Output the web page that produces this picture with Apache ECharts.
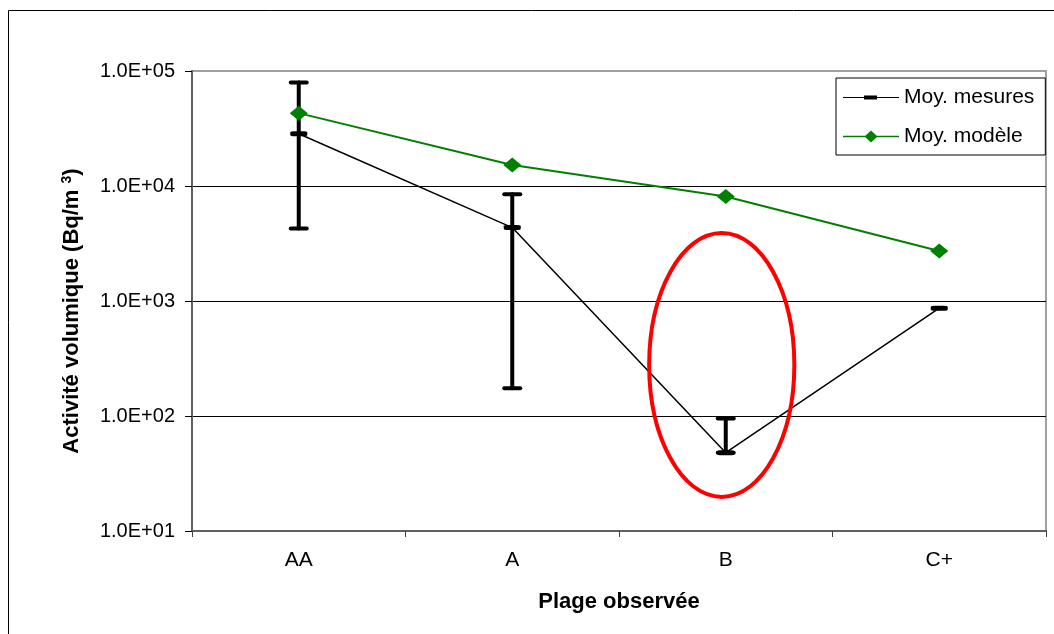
<!DOCTYPE html>
<html>
<head>
<meta charset="utf-8">
<title>Activité volumique par plage observée</title>
<script src="https://cdn.jsdelivr.net/npm/echarts@6/dist/echarts.min.js"></script>
<style>
  html, body { margin: 0; padding: 0; background: #fff; }
  #chart { width: 1054px; height: 634px; }
</style>
</head>
<body>
<div id="chart"></div>
<script>
// Observed ranges (x categories)
const categories = ['AA', 'A', 'B', 'C+'];

// Mean of measurements, with min / max of the measured spread
const mesures    = [28500, 4350, 48, 865];
const mesuresMin = [4270, 174, 48, null];
const mesuresMax = [79500, 8470, 95, null];

// Mean of the model
const modele = [43000, 15200, 8100, 2720];

// Log axis bounds
const yMin = 10;
const yMax = 100000;

// Highlighted zone around range B (value span of the circled area)
const zoneCategory = 'B';
const zoneTop = 3900;
const zoneBottom = 19.8;

const FONT = "'Liberation Sans', Arial, sans-serif";

function sciLabel(v) {
  const e = Math.round(Math.log10(v));
  return '1.0E+' + (e < 10 ? '0' : '') + e;
}

const errData = [];
categories.forEach(function (c, i) {
  if (mesuresMin[i] != null && mesuresMax[i] != null) {
    errData.push([i, mesuresMin[i], mesuresMax[i]]);
  }
});

const chart = echarts.init(document.getElementById('chart'), null, { renderer: 'canvas' });

const option = {
  backgroundColor: '#fff',
  animation: false,
  textStyle: { fontFamily: FONT, color: '#000' },
  grid: {
    left: 192, top: 71, width: 854, height: 460,
    show: true, borderColor: '#a0a0a0', borderWidth: 2,
    backgroundColor: 'transparent',
    outerBoundsMode: 'none', containLabel: false
  },
  legend: {
    orient: 'vertical',
    left: 836, top: 78,
    padding: [9, 11, 8, 7],
    itemGap: 18,
    itemWidth: 56, itemHeight: 14,
    borderColor: '#000', borderWidth: 1,
    backgroundColor: '#fff',
    itemStyle: { borderWidth: 0 },
    textStyle: { fontFamily: FONT, fontSize: 21, color: '#000' },
    data: [
      { name: 'Moy. mesures', icon: 'path://M0,0 M56,14 M0,6.5 H56 V7.5 H0 Z M21,5 H34 V9 H21 Z' },
      { name: 'Moy. modèle', icon: 'path://M0,0 M56,14 M0,6.2 H56 V7.8 H0 Z M28,1 L34.5,7 L28,13 L21.5,7 Z' }
    ]
  },
  xAxis: {
    type: 'category',
    data: categories,
    boundaryGap: true,
    name: 'Plage observée',
    nameLocation: 'middle',
    nameGap: 60,
    nameTextStyle: { fontFamily: FONT, fontSize: 22, fontWeight: 'bold', color: '#000' },
    axisLine: { show: true, lineStyle: { color: '#606060', width: 2 } },
    axisTick: { show: true, interval: 0, length: 6, lineStyle: { color: '#404040', width: 1 } },
    axisLabel: { fontFamily: FONT, fontSize: 21, color: '#000', margin: 19, interval: 0 },
    splitLine: { show: false }
  },
  yAxis: {
    type: 'log',
    logBase: 10,
    min: yMin,
    max: yMax,
    name: 'Activité volumique (Bq/m {sup|3})',
    nameLocation: 'middle',
    nameRotate: 90,
    nameGap: 108,
    nameTextStyle: {
      fontFamily: FONT, fontSize: 22, fontWeight: 'bold', color: '#000',
      padding: [0, 20, 0, 0],
      rich: {
        sup: { fontFamily: FONT, fontSize: 14, fontWeight: 'bold', color: '#000', verticalAlign: 'top', lineHeight: 24 }
      }
    },
    axisLine: { show: true, lineStyle: { color: '#606060', width: 2 } },
    axisTick: { show: true, length: 7, lineStyle: { color: '#000', width: 1 } },
    minorTick: { show: false },
    axisLabel: { fontFamily: FONT, fontSize: 20, color: '#000', margin: 17, formatter: sciLabel },
    splitLine: { show: true, showMinLine: false, showMaxLine: false, lineStyle: { color: '#000', width: 1 } }
  },
  series: [
    {
      name: 'errors',
      type: 'custom',
      z: 2,
      data: errData,
      encode: { x: 0, y: [1, 2] },
      renderItem: function (params, api) {
        const lo = api.coord([api.value(0), api.value(1)]);
        const hi = api.coord([api.value(0), api.value(2)]);
        const half = 8;
        const style = { stroke: '#000', lineWidth: 4, lineCap: 'round' };
        return {
          type: 'group',
          children: [
            { type: 'line', shape: { x1: lo[0], y1: lo[1], x2: hi[0], y2: hi[1] }, style: style },
            { type: 'line', shape: { x1: hi[0] - half, y1: hi[1], x2: hi[0] + half, y2: hi[1] }, style: style },
            { type: 'line', shape: { x1: lo[0] - half, y1: lo[1], x2: lo[0] + half, y2: lo[1] }, style: style }
          ]
        };
      }
    },
    {
      name: 'Moy. mesures',
      type: 'line',
      z: 3,
      data: mesures,
      color: '#000',
      lineStyle: { color: '#000', width: 1.5 },
      itemStyle: { color: '#000', borderWidth: 0 },
      symbol: 'roundRect',
      symbolSize: [17, 5],
      showAllSymbol: true
    },
    {
      name: 'Moy. modèle',
      type: 'line',
      z: 4,
      data: modele,
      color: '#008000',
      lineStyle: { color: '#008000', width: 2 },
      itemStyle: { color: '#008000', borderWidth: 0 },
      symbol: 'diamond',
      symbolSize: [18, 15],
      showAllSymbol: true
    }
  ]
};

chart.setOption(option);

// Outer frame and the red ellipse around the highlighted range
function drawOverlay() {
  const cx = chart.convertToPixel({ xAxisIndex: 0 }, zoneCategory) - 4;
  const yTop = chart.convertToPixel({ yAxisIndex: 0 }, zoneTop);
  const yBot = chart.convertToPixel({ yAxisIndex: 0 }, zoneBottom);
  const band = chart.convertToPixel({ xAxisIndex: 0 }, categories[1]) -
               chart.convertToPixel({ xAxisIndex: 0 }, categories[0]);
  chart.setOption({
    graphic: [
      {
        type: 'rect', silent: true, z: 100,
        shape: { x: 8.5, y: 10.5, width: 1200, height: 800 },
        style: { fill: 'none', stroke: '#000', lineWidth: 1 }
      },
      {
        type: 'ellipse', silent: true, z: 100,
        shape: { cx: cx, cy: (yTop + yBot) / 2, rx: band * 0.34, ry: (yBot - yTop) / 2 },
        style: { fill: 'none', stroke: '#ff0000', lineWidth: 4 }
      }
    ]
  });
}
drawOverlay();
</script>
</body>
</html>
